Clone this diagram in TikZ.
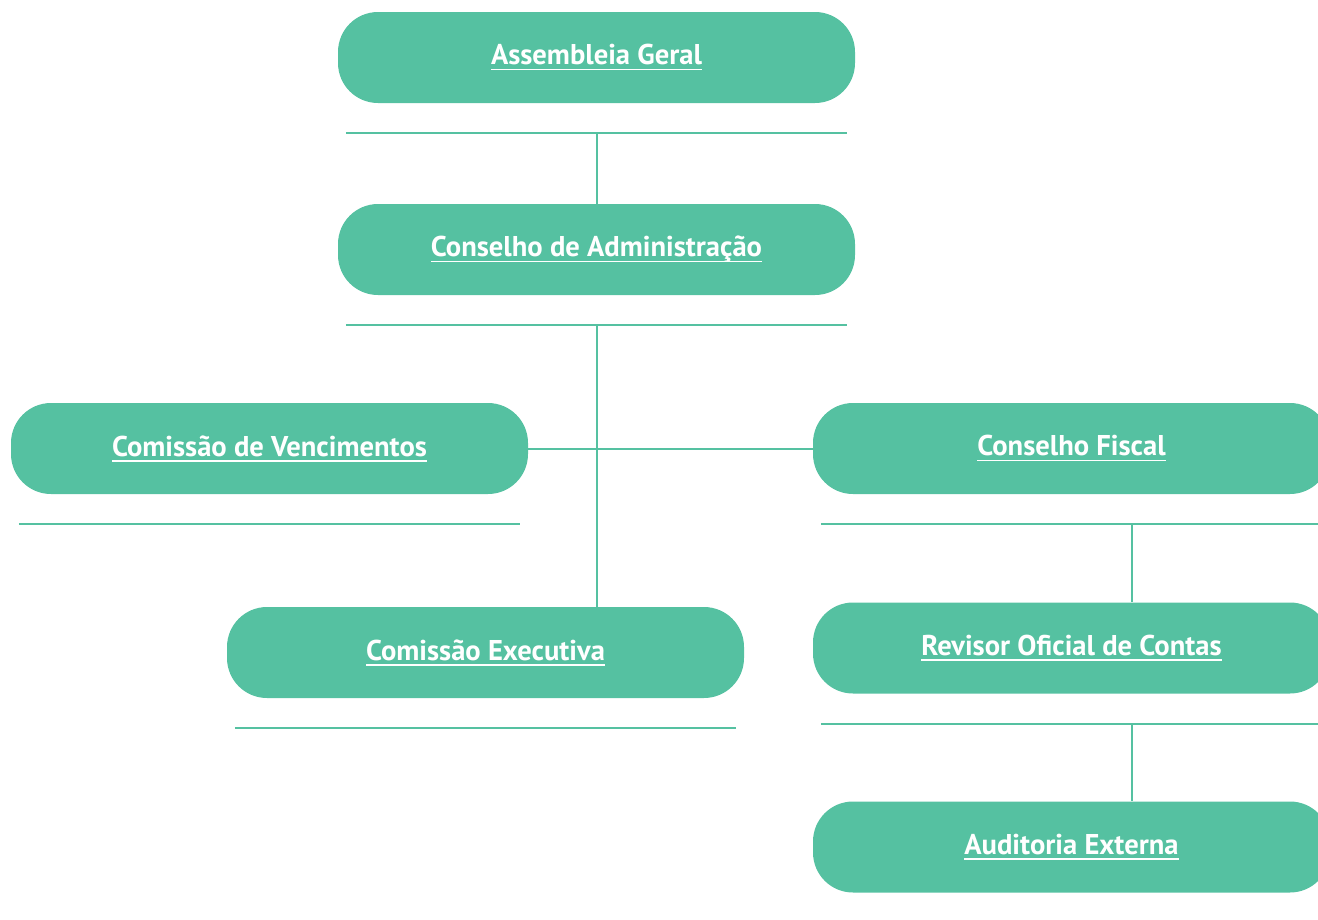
\documentclass[tikz,border=0pt]{standalone}
\usepackage{fontspec}
\setmainfont{PT Sans}
\usetikzlibrary{calc}
\definecolor{orggreen}{RGB}{85,193,161}
% underlined label, the line sitting at a fixed distance below the baseline
\newsavebox\lnkbox
\newcommand\lnk[1]{\sbox\lnkbox{#1}%
  \raisebox{-5.5pt}{\rule{\wd\lnkbox}{1.7pt}}\kern-\wd\lnkbox\usebox\lnkbox}
\begin{document}
\begin{tikzpicture}[x=1pt,y=-1pt,
  unit/.style={fill=orggreen, rounded corners=40pt, minimum width=517pt,
    minimum height=91pt, inner sep=0pt, text=white,
    font=\bfseries\fontsize{28.6}{32}\selectfont},
  link/.style={draw=orggreen, line width=2pt}]
\useasboundingbox (0,0) rectangle (1318,919);
\clip (0,0) rectangle (1318,919);

% organisational units
\node[unit] (ag)  at (596.5,57.5)  {\lnk{Assembleia Geral}};
\node[unit] (ca)  at (596.5,249.5) {\lnk{Conselho de Administração}};
\node[unit] (cv)  at (269.5,448.5) {\lnk{Comissão de Vencimentos}};
\node[unit] (cf)  at (1071.5,448.5){\lnk{Conselho Fiscal}};
\node[unit] (ce)  at (485.5,652.5) {\lnk{Comissão Executiva}};
\node[unit] (roc) at (1071.5,648)  {\lnk{Revisor Oficial de Contas}};
\node[unit] (ae)  at (1071.5,847)  {\lnk{Auditoria Externa}};

% rules underneath each unit
\foreach \n in {ag,ca,cv,cf,ce,roc}{
  \draw[link] ($(\n.south west)+(8,30)$) coordinate (\n-l)
     -- ($(\n.south east)+(-8,30)$) coordinate (\n-r);
}
\coordinate (ag-m)  at ($(ag.south)+(0,30)$);
\coordinate (ca-m)  at ($(ca.south)+(0,30)$);
\coordinate (cf-m)  at ($(cf.south)+(60.5,30)$);
\coordinate (roc-m) at ($(roc.south)+(60.5,30.5)$);

% connectors
\draw[link] (ag-m) -- (ca.north);
\draw[link] (ca-m) -- (ca-m |- ce.north);
\draw[link] (cv.east) -- (cf.west);
\draw[link] (cf-m) -- (cf-m |- roc.north);
\draw[link] (roc-m) -- (roc-m |- ae.north);
\end{tikzpicture}
\end{document}
